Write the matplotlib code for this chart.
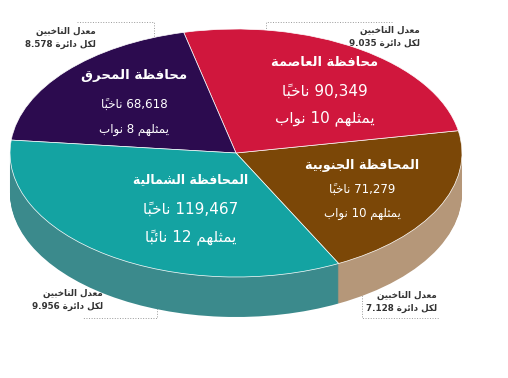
import matplotlib
matplotlib.use("Agg")
import matplotlib.pyplot as plt

W, H = 508, 378

# data, counterclockwise starting at the south/north seam
names = ["المحافظة الجنوبية", "محافظة العاصمة", "محافظة المحرق", "المحافظة الشمالية"]
voters = [71279, 90349, 68618, 119467]
seats = [10, 10, 8, 12]
avg_per_district = ["7.128", "9.035", "8.578", "9.956"]

top_colors = ["#7b4707", "#d0173d", "#2c0b4f", "#14a3a2"]
side_colors = ["#b59779", "#9e1230", "#1f0838", "#3b8a8c"]

# --- tiny arabic shaper (matplotlib has no bidi / joining) ---
DUAL = {'ب': 0xFE8F, 'ت': 0xFE95, 'ث': 0xFE99, 'ج': 0xFE9D, 'ح': 0xFEA1, 'خ': 0xFEA5,
        'س': 0xFEB1, 'ش': 0xFEB5, 'ص': 0xFEB9, 'ض': 0xFEBD, 'ط': 0xFEC1, 'ظ': 0xFEC5,
        'ع': 0xFEC9, 'غ': 0xFECD, 'ف': 0xFED1, 'ق': 0xFED5, 'ك': 0xFED9, 'ل': 0xFEDD,
        'م': 0xFEE1, 'ن': 0xFEE5, 'ه': 0xFEE9, 'ي': 0xFEF1, 'ئ': 0xFE89}
RIGHT = {'ا': 0xFE8D, 'أ': 0xFE83, 'إ': 0xFE87, 'آ': 0xFE81, 'ة': 0xFE93, 'د': 0xFEA9,
         'ذ': 0xFEAB, 'ر': 0xFEAD, 'ز': 0xFEAF, 'و': 0xFEED, 'ؤ': 0xFE85, 'ى': 0xFEEF}
MARKS = set('\u064b\u064c\u064d\u064e\u064f\u0650\u0651\u0652')


def shape_word(w):
    bases = [i for i, c in enumerate(w) if c not in MARKS]
    clusters = []
    for j, i in enumerate(bases):
        c = w[i]
        end = bases[j + 1] if j + 1 < len(bases) else len(w)
        marks = w[i + 1:end]
        prev = w[bases[j - 1]] if j > 0 else None
        nxt = w[bases[j + 1]] if j + 1 < len(bases) else None
        start = DUAL.get(c, RIGHT.get(c))
        if start is None:
            clusters.append(c + marks)
            continue
        jp = prev in DUAL
        jn = c in DUAL and (nxt in DUAL or nxt in RIGHT)
        if jp and jn:
            g = start + 3
        elif jp:
            g = start + 1
        elif jn:
            g = start + 2
        else:
            g = start
        clusters.append(chr(g) + marks)
    return ''.join(reversed(clusters))


def ar(text):
    words = []
    for t in text.split(' '):
        if any('\u0600' <= ch <= '\u06ff' for ch in t):
            words.append(shape_word(t))
        else:
            words.append(t)
    return ' '.join(reversed(words))


fig = plt.figure(figsize=(W / 100, H / 100), dpi=100)

# background layer: callouts
bg = fig.add_axes([0, 0, 1, 1])
bg.set_xlim(0, W)
bg.set_ylim(H, 0)
bg.axis('off')

# pie layer
cx, cy, a, b, depth = 236, 153, 226, 124, 40
ax = fig.add_axes([0, 0, 1, 1], facecolor='none')
for k in range(depth, 0, -1):
    ax.pie(voters, colors=side_colors, startangle=-63, center=(0, -k / b),
           wedgeprops=dict(linewidth=0))
ax.pie(voters, colors=top_colors, startangle=-63,
       wedgeprops=dict(edgecolor='white', linewidth=0.5))
ax.set_aspect('auto')
ax.set_xlim(-cx / a, (W - cx) / a)
ax.set_ylim(-(H - cy) / b, cy / b)
ax.axis('off')

# labels layer
ov = fig.add_axes([0, 0, 1, 1], facecolor='none')
ov.set_xlim(0, W)
ov.set_ylim(H, 0)
ov.axis('off')

# label layout per slice: (x, title y, value y, seats y, title size, line size)
label_pos = [(362, 166, 190, 213, 9.2, 8.5),
             (325, 62, 91, 118, 9.4, 11),
             (134, 76, 105, 130, 9.6, 8.6),
             (191, 180, 209, 238, 9.0, 11)]
for name, v, s, (x, y1, y2, y3, fs1, fs2) in zip(names, voters, seats, label_pos):
    word = "نواب" if s <= 10 else "نائباً"
    ov.text(x, y1, ar(name), color='white', fontsize=fs1, fontweight='bold',
            ha='center', va='center')
    ov.text(x, y2, ar(f"{v:,} ناخباً"), color='white', fontsize=fs2,
            ha='center', va='center')
    ov.text(x, y3, ar(f"يمثلهم {s} {word}"), color='white', fontsize=fs2,
            ha='center', va='center')

# callouts: (right x, first line y, leader line points)
callouts = [(437, 295, [(362, 285), (362, 318), (439, 318)]),
            (420, 30, [(392, 22), (266, 22), (266, 42)]),
            (96, 31, [(77, 22), (154, 22), (154, 42)]),
            (103, 293, [(157, 285), (157, 318), (82, 318)])]
for avg, (rx, ty, pts) in zip(avg_per_district, callouts):
    bg.plot([p[0] for p in pts], [p[1] for p in pts], ls=':', lw=0.7, color='#9a9a9a')
    bg.text(rx, ty, ar("معدل الناخبين"), fontsize=6.3, fontweight='bold',
            color='#333333', ha='right', va='center')
    bg.text(rx, ty + 13, ar(f"لكل دائرة {avg}"), fontsize=6.3, fontweight='bold',
            color='#333333', ha='right', va='center')

fig.savefig("out.png", dpi=100)
